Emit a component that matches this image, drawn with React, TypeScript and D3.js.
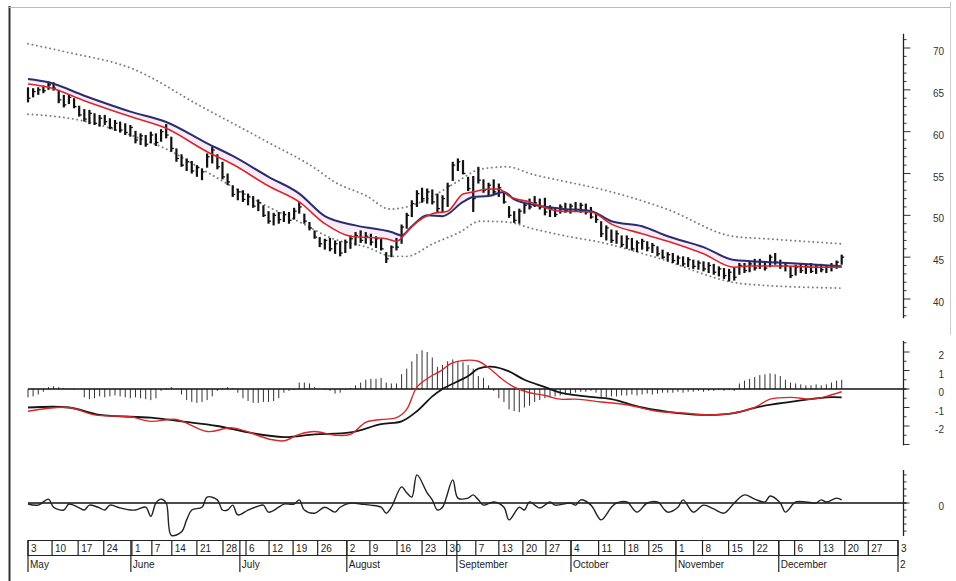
import React from "react";
import * as d3 from "d3";

// ---------- DATA ----------
const highs = [
  65.3, 65.2, 65.3, 65.5, 66.0, 65.9, 65.0, 64.4, 64.5, 64.0,
  63.1, 62.7, 62.6, 62.2, 62.0, 62.0, 61.6, 61.4, 61.2, 61.0,
  60.8, 60.1, 59.8, 59.6, 60.0, 59.8, 60.3, 60.9, 59.4, 58.0,
  57.3, 56.8, 56.5, 56.0, 55.6, 57.4, 58.2, 57.3, 56.4, 55.0,
  53.6, 53.2, 53.0, 52.6, 52.3, 51.9, 51.2, 50.5, 50.3, 50.4,
  50.5, 50.4, 50.9, 51.6, 50.2, 49.2, 48.2, 47.4, 47.2, 47.3,
  47.0, 46.9, 47.1, 47.6, 48.0, 48.2, 48.0, 47.8, 47.5, 47.2,
  45.6, 46.4, 47.3, 48.9, 50.3, 51.8, 53.0, 53.3, 53.2, 53.1,
  52.6, 52.4, 53.9, 56.4, 56.8, 56.6, 54.6, 54.7, 55.8, 54.3,
  53.9, 54.3, 53.8, 52.9, 51.1, 50.5, 50.8, 51.5, 52.0, 52.3,
  52.0, 52.1, 51.2, 51.0, 51.3, 51.5, 51.4, 51.6, 51.5, 51.4,
  51.0, 50.4, 49.3, 48.8, 48.3, 48.2, 47.6, 47.6, 47.3, 47.0,
  47.2, 46.9, 46.7, 46.3, 45.9, 45.6, 45.5, 45.2, 45.1, 45.0,
  44.7, 44.6, 44.5, 44.4, 44.2, 43.9, 43.7, 43.6, 43.8, 44.3,
  44.3, 44.5, 44.8, 44.8, 44.4, 45.3, 45.5, 44.7, 44.3, 43.9,
  44.1, 44.2, 44.1, 44.3, 44.1, 44.2, 44.0, 44.3, 44.6, 45.3,
];
const lows = [
  63.5, 64.1, 64.4, 64.6, 65.0, 64.9, 63.4, 62.9, 63.3, 62.8,
  61.8, 61.2, 60.9, 60.8, 60.6, 60.8, 60.3, 60.1, 59.9, 59.6,
  59.4, 58.6, 58.4, 58.2, 58.6, 58.3, 58.8, 59.2, 57.6, 56.4,
  55.8, 55.3, 55.0, 54.6, 54.2, 55.7, 56.2, 55.5, 54.3, 53.6,
  52.2, 51.8, 51.6, 51.2, 50.9, 50.5, 49.8, 49.0, 48.8, 49.0,
  49.2, 49.0, 49.5, 50.2, 49.0, 48.2, 47.2, 46.2, 45.9, 45.7,
  45.4, 45.1, 45.5, 46.0, 46.4, 46.7, 46.6, 46.4, 46.1, 45.8,
  44.3, 45.0, 45.8, 46.6, 48.4, 49.8, 51.0, 51.5, 51.4, 51.3,
  50.4, 50.4, 51.0, 54.1, 55.3, 54.9, 52.9, 50.4, 53.8, 52.7,
  52.3, 52.5, 52.2, 51.4, 49.7, 49.1, 49.0, 50.2, 50.7, 51.0,
  50.7, 50.0, 49.8, 49.8, 50.2, 50.3, 50.2, 50.4, 50.3, 50.1,
  49.6, 49.1, 47.4, 47.0, 46.7, 46.6, 46.2, 46.0, 45.8, 45.6,
  45.9, 45.7, 45.5, 45.1, 44.8, 44.5, 44.3, 44.1, 43.9, 43.8,
  43.6, 43.5, 43.3, 43.1, 42.9, 42.7, 42.4, 42.1, 42.2, 42.9,
  43.1, 43.2, 43.4, 43.6, 43.4, 43.8, 44.1, 43.6, 43.3, 42.5,
  42.8, 43.1, 43.0, 43.1, 43.0, 43.2, 43.1, 43.3, 43.6, 44.1,
];
const closes = [
  64.0, 64.8, 65.0, 64.9, 65.6, 65.2, 63.8, 63.2, 64.1, 63.0,
  62.0, 61.5, 62.2, 61.0, 61.6, 61.2, 60.5, 61.0, 60.2, 59.9,
  60.5, 59.0, 59.5, 58.5, 59.6, 58.7, 60.0, 59.6, 58.0, 56.8,
  56.0, 56.4, 55.3, 55.7, 55.2, 57.0, 57.8, 55.8, 54.6, 54.0,
  52.5, 52.8, 51.9, 52.2, 51.1, 51.5, 50.0, 49.3, 50.0, 49.5,
  50.1, 49.4, 50.5, 51.0, 49.3, 48.5, 47.4, 46.6, 47.0, 46.0,
  46.6, 45.5, 46.8, 47.2, 47.6, 47.0, 47.5, 46.8, 47.2, 46.0,
  44.8, 46.2, 46.2, 48.6, 50.0, 51.4, 52.6, 52.0, 52.8, 51.6,
  50.8, 52.0, 53.5, 56.0, 56.4, 55.0, 53.2, 52.0, 54.2, 53.0,
  53.6, 52.8, 53.3, 51.6, 50.0, 49.4, 50.5, 51.2, 51.0, 51.5,
  51.0, 50.4, 50.8, 50.1, 51.0, 50.6, 51.1, 50.7, 51.2, 50.4,
  49.8, 49.5, 47.8, 48.5, 47.0, 47.8, 46.5, 47.2, 46.0, 46.7,
  46.9, 46.1, 46.4, 45.4, 45.0, 45.3, 44.6, 44.9, 44.2, 44.7,
  43.9, 44.3, 43.6, 44.0, 43.2, 43.6, 42.8, 43.2, 42.6, 44.0,
  43.4, 44.2, 43.7, 44.5, 43.7, 45.0, 44.4, 43.9, 44.0, 42.8,
  43.8, 43.4, 43.9, 43.3, 43.8, 43.5, 43.8, 44.0, 44.4, 45.0,
];

// moving averages: [day index, value]
const blueMA: [number, number][] = [
  [0, 66.3], [4, 65.9], [11, 64.3], [20, 62.4], [27, 61.15], [35, 58.6], [40, 57.1],
  [47, 54.6], [53, 52.6], [58, 49.9], [64, 48.8], [71, 48.0], [73, 47.6], [75, 48.7],
  [78, 50.0], [81, 49.9], [85, 51.6], [87, 52.2], [90, 52.3], [93, 52.8], [95, 51.9],
  [98, 51.35], [104, 50.8], [110, 50.5], [114, 49.3], [120, 48.7], [125, 47.5],
  [132, 46.2], [138, 44.65], [145, 44.4], [151, 44.2], [159, 43.9],
];
const redMA: [number, number][] = [
  [0, 65.7], [4, 65.3], [11, 63.7], [20, 61.8], [27, 60.4], [35, 57.6], [40, 56.1],
  [47, 53.5], [53, 51.6], [58, 49.0], [63, 47.5], [70, 47.2], [72, 46.9], [74, 48.0],
  [76, 49.2], [79, 50.2], [82, 50.5], [85, 52.55], [87, 52.8], [90, 53.15], [92, 53.15],
  [94, 52.3], [98, 51.6], [104, 50.5], [110, 50.4], [114, 48.95], [120, 47.8],
  [125, 46.9], [132, 45.4], [138, 43.8], [141, 43.95], [148, 43.95], [154, 43.8], [159, 43.8],
];
const upperBand: [number, number][] = [
  [0, 70.5], [7.6, 69.5], [20.5, 67.5], [33.6, 63.1], [46.7, 58.8], [56.4, 55.5],
  [59.6, 54.1], [66.2, 52.3], [70.7, 50.75], [74.6, 51.1], [79.1, 52.3], [83.8, 54.0],
  [88.3, 55.5], [93.6, 55.8], [98.6, 54.9], [105.3, 54.0], [111.7, 53.15],
  [124.8, 50.75], [137.7, 47.5], [144.3, 47.2], [159, 46.6],
];
const lowerBand: [number, number][] = [
  [0, 62.1], [10.7, 61.3], [20.5, 59.5], [27.1, 57.9], [34.9, 55.2], [46.7, 51.1],
  [53.1, 49.2], [59.6, 47.2], [66.2, 46.2], [71.3, 45.1], [74, 45.1], [79.1, 46.6],
  [84.4, 48.0], [88.3, 49.3], [93.6, 49.2], [98.6, 48.4], [105.3, 47.5],
  [111.7, 46.8], [122.5, 45.0], [140, 41.8], [159, 41.3],
];

// MACD panel
const macdHist = [
  -0.45, -0.4, -0.3, -0.15, 0.1, 0.15, 0.1, 0.05, 0, -0.05,
  0, -0.45, -0.55, -0.5, -0.4, -0.45, -0.4, -0.35, -0.4, -0.45,
  -0.5, -0.45, -0.5, -0.55, -0.6, -0.5, -0.1, 0.05, 0.1, 0,
  -0.3, -0.6, -0.7, -0.75, -0.7, -0.6, -0.4, -0.1, 0.05, 0.1,
  0.05, -0.2, -0.5, -0.65, -0.75, -0.75, -0.7, -0.7, -0.65, -0.5,
  -0.2, -0.1, -0.05, 0.35, 0.35, 0.3, 0.1, 0, -0.05, -0.1,
  -0.25, -0.2, -0.05, 0.05, 0.2, 0.35, 0.5, 0.55, 0.55, 0.6,
  0.35, 0.3, 0.3, 0.8, 1.1, 1.5, 1.9, 2.1, 2.0, 1.7,
  1.2, 1.3, 1.5, 1.6, 1.5, 1.45, 1.3, 1.1, 0.7, 0.6,
  0.2, -0.1, -0.5, -0.7, -1.1, -1.2, -1.25, -1.0, -0.9, -0.7,
  -0.6, -0.5, -0.45, -0.4, -0.35, -0.3, -0.3, -0.2, -0.15, -0.15,
  -0.1, -0.2, -0.45, -0.45, -0.4, -0.4, -0.35, -0.35, -0.3, -0.35,
  -0.3, -0.25, -0.3, -0.25, -0.2, -0.2, -0.2, -0.15, -0.2, -0.15,
  -0.15, -0.1, -0.15, -0.1, -0.1, -0.05, -0.1, -0.05, -0.1, 0.3,
  0.45, 0.55, 0.65, 0.75, 0.8, 0.85, 0.8, 0.7, 0.5, 0.35,
  0.3, 0.25, 0.2, 0.2, 0.25, 0.2, 0.25, 0.35, 0.45, 0.5,
];
const macdRed: [number, number][] = [
  [0, -1.2], [8, -1.0], [13, -1.4], [20, -1.5], [24, -1.75], [29, -1.65], [35, -2.3],
  [40, -2.1], [47, -2.7], [50, -2.8], [53, -2.45], [56, -2.3], [60, -2.5], [63, -2.45],
  [66, -1.8], [69, -1.65], [72, -1.55], [74, -1.1], [76, 0.1], [78.5, 0.65], [80.5, 0.95],
  [82.8, 1.4], [85.3, 1.55], [88, 1.5], [90, 1.15], [92.8, 0.5], [95, 0.1], [98, -0.2],
  [101, -0.35], [104, -0.55], [107, -0.55], [112, -0.7], [117, -0.85], [123, -1.2],
  [128, -1.3], [133, -1.4], [138, -1.3], [142, -1.0], [145, -0.55], [149, -0.45],
  [153, -0.55], [156, -0.4], [159, -0.15],
];
const macdBlack: [number, number][] = [
  [0, -1.0], [8, -1.0], [14, -1.4], [24, -1.55], [30, -1.75], [37, -2.0], [43, -2.35],
  [50, -2.6], [56, -2.45], [63, -2.35], [69, -1.9], [73, -1.75], [76, -1.2], [79, -0.4],
  [81, 0], [86, 0.7], [88, 1.1], [91, 1.2], [94, 0.95], [97, 0.5], [101, 0.1],
  [104, -0.2], [109, -0.4], [114, -0.55], [120, -1.0], [127, -1.3], [133, -1.4],
  [138, -1.3], [143, -0.95], [149, -0.7], [156, -0.45], [159, -0.45],
];

// momentum panel
const momentum: [number, number][] = [
  [0, -0.15], [2, -0.3], [4, 0.55], [5, -0.6], [7, -1.0], [8, -0.15], [10, -0.7],
  [11, -1.0], [12, -0.3], [14, -0.7], [15, -1.0], [16, -0.3], [18, -0.7], [20, -1.0],
  [21, -1.0], [23, -0.6], [24, -1.9], [25, 0], [26, 0.55], [27, 0], [28, -4.6],
  [30, -4.1], [31, -2.4], [32, -1.0], [34, -0.6], [35, 0.85], [37, 0.45], [38, -1.0],
  [39, -1.0], [40, -0.3], [41, -1.7], [43, -1.0], [45, -0.45], [46, -0.3], [47, -1.3],
  [49, -0.6], [50, -0.15], [52, -0.15], [53, 0.45], [54, -1.0], [56, -1.45], [58, -0.6],
  [60, -1.3], [61, -0.6], [63, 0], [65, -0.15], [67, -0.3], [69, -0.6], [70, -1.45],
  [71, -0.6], [73, 2.3], [74, 1.45], [75, 0.85], [76, 4.0], [78, 1.45], [79, 0.45],
  [80, -1.0], [81, -0.6], [83, 3.3], [84, 0.7], [86, 0.7], [87, 1.15], [88, 0.45],
  [89, -0.3], [91, 0.15], [93, -0.6], [94, -2.4], [96, -0.6], [97, -1.0], [98, 0.15],
  [100, -0.7], [102, 0.15], [103, -0.3], [106, 0], [107, -0.3], [108, 0.45], [110, -0.3],
  [112, -2.4], [114, -0.6], [115, 0], [117, 0.15], [119, -1.3], [121, 0], [123, 0.15],
  [125, -1.3], [127, -0.6], [128, 0.45], [130, -1.3], [132, -0.3], [134, -0.85],
  [136, -1.45], [138, 0], [140, 1.15], [142, 0.55], [144, 0.15], [145, 1.0], [147, 0],
  [148, -1.3], [150, 0.15], [152, 0.15], [154, 0], [155, 0.45], [156, 0.15], [158, 0.7],
  [159, 0.45],
];

// date axis
const weekLabels = [
  "3", "10", "17", "24", "1", "7", "14", "21", "28", "6", "12", "19", "26", "2", "9",
  "16", "23", "30", "7", "13", "20", "27", "4", "11", "18", "25", "1", "8", "15", "22",
  "", "6", "13", "20", "27", "3",
];
const weekPos = [
  0, 4.7, 9.8, 14.8, 20.3, 24.2, 28.1, 33.0, 38.1, 42.6, 47.1, 51.8, 56.6, 62.3, 66.8,
  72.1, 77.0, 81.8, 87.5, 92.0, 96.7, 101.2, 106.1, 111.5, 116.6, 121.3, 126.6, 131.8,
  136.9, 141.8, 146.7, 149.8, 154.7, 159.6, 164.2, 170,
];
const monthLabels = ["May", "June", "July", "August", "September", "October", "November", "December", "2"];
const monthPos = [0, 20.1, 41.4, 62.3, 83.8, 106.1, 126.6, 146.7, 170];

const priceTicks = [40, 45, 50, 55, 60, 65, 70];
const macdTicks = [-2, -1, 0, 1, 2];

// ---------- CHART ----------
const W = 956;
const H = 581;

export default function App() {
  const x = d3.scaleLinear().domain([0, 170]).range([28, 898]);
  const yP = d3.scaleLinear().domain([40, 70]).range([299, 48]);
  const yM = d3.scaleLinear().domain([-3, 2.5]).range([444.5, 342.75]);
  const yMo = d3.scaleLinear().domain([-4.7, 4.7]).range([536, 470]);
  const axisX = 903.5;
  const font = "'Liberation Sans', Arial, sans-serif";

  const lineP = d3
    .line<[number, number]>()
    .x((d) => x(d[0]))
    .y((d) => yP(d[1]))
    .curve(d3.curveMonotoneX);
  const lineM = d3
    .line<[number, number]>()
    .x((d) => x(d[0]))
    .y((d) => yM(d[1]))
    .curve(d3.curveCatmullRom.alpha(0.5));
  const lineMo = d3
    .line<[number, number]>()
    .x((d) => x(d[0]))
    .y((d) => yMo(d[1]))
    .curve(d3.curveCatmullRom.alpha(0.5));
  const linLin = d3
    .line<[number, number]>()
    .x((d) => x(d[0]))
    .y((d) => yP(d[1]));

  const fillPath =
    linLin(blueMA)! + "L" + linLin([...redMA].reverse())!.slice(1) + "Z";

  const minorPrice = d3.range(38, 72, 1);
  const minorMacd = d3.range(-3, 2.51, 0.5);
  const minorMom = d3.range(-4, 4.1, 1);

  return (
    <svg
      width={W}
      height={H}
      viewBox={`0 0 ${W} ${H}`}
      style={{ position: "absolute", left: 0, top: 0, background: "#fff" }}
      fontFamily={font}
    >
      <rect x={0} y={0} width={W} height={H} fill="#fff" />
      {/* frame */}
      <line x1={9.5} x2={9.5} y1={6} y2={H} stroke="#333" strokeWidth={2} />
      <line x1={9} x2={950} y1={7.5} y2={7.5} stroke="#bbb" strokeWidth={1} />
      <line x1={950.5} x2={950.5} y1={2} y2={335} stroke="#ccc" strokeWidth={1} />

      {/* ---- price panel ---- */}
      <path d={fillPath} fill="#f1dff0" opacity={0.6} />
      <path
        d={lineP(upperBand)!}
        fill="none"
        stroke="#7d7d7d"
        strokeWidth={1.9}
        strokeDasharray="0.1 4.4"
        strokeLinecap="round"
      />
      <path
        d={lineP(lowerBand)!}
        fill="none"
        stroke="#7d7d7d"
        strokeWidth={1.9}
        strokeDasharray="0.1 4.4"
        strokeLinecap="round"
      />
      {highs.map((h, i) => (
        <g key={"b" + i}>
          <line x1={x(i)} x2={x(i)} y1={yP(h)} y2={yP(lows[i])} stroke="#111" strokeWidth={2.2} />
          <line x1={x(i)} x2={x(i) + 2.5} y1={yP(closes[i])} y2={yP(closes[i])} stroke="#111" strokeWidth={1.3} />
        </g>
      ))}
      <path d={lineP(blueMA)!} fill="none" stroke="#2b2c72" strokeWidth={2} />
      <path d={lineP(redMA)!} fill="none" stroke="#d8262a" strokeWidth={1.6} />

      {/* price axis */}
      <line x1={axisX} x2={axisX} y1={yP(71.7)} y2={yP(37.7)} stroke="#222" strokeWidth={1.3} />
      {minorPrice.map((v) => (
        <line key={"pm" + v} x1={axisX} x2={axisX + (v % 5 === 0 ? 7 : 3)} y1={yP(v)} y2={yP(v)} stroke="#333" strokeWidth={1} />
      ))}
      {priceTicks.map((v) => (
        <text key={"pt" + v} x={944} y={yP(v) + 7} textAnchor="end" fontSize={10} fill="#333">
          {v}
        </text>
      ))}

      {/* ---- MACD panel ---- */}
      {macdHist.map((v, i) => (
        <line key={"h" + i} x1={x(i)} x2={x(i)} y1={yM(0)} y2={yM(v)} stroke="#333" strokeWidth={1} />
      ))}
      <line x1={28} x2={axisX + 3} y1={yM(0)} y2={yM(0)} stroke="#111" strokeWidth={1.3} />
      <path d={lineM(macdBlack)!} fill="none" stroke="#151515" strokeWidth={1.8} />
      <path d={lineM(macdRed)!} fill="none" stroke="#d8262a" strokeWidth={1.4} />
      <line x1={axisX} x2={axisX} y1={yM(2.6)} y2={yM(-3.05)} stroke="#222" strokeWidth={1.3} />
      {minorMacd.map((v) => (
        <line key={"mm" + v} x1={axisX} x2={axisX + (Math.abs(v % 1) < 0.01 ? 6 : 3)} y1={yM(v)} y2={yM(v)} stroke="#333" strokeWidth={1} />
      ))}
      {macdTicks.map((v) => (
        <text key={"mt" + v} x={944} y={yM(v) + 7} textAnchor="end" fontSize={10} fill="#333">
          {v}
        </text>
      ))}

      {/* ---- momentum panel ---- */}
      <line x1={28} x2={axisX + 3} y1={yMo(0)} y2={yMo(0)} stroke="#111" strokeWidth={1.3} />
      <path d={lineMo(momentum)!} fill="none" stroke="#222" strokeWidth={1.4} strokeLinejoin="round" />
      <line x1={axisX} x2={axisX} y1={yMo(4.7)} y2={yMo(-4.7)} stroke="#222" strokeWidth={1.3} />
      {minorMom.map((v) => (
        <line key={"om" + v} x1={axisX} x2={axisX + (v === 0 ? 6 : 3)} y1={yMo(v)} y2={yMo(v)} stroke="#333" strokeWidth={1} />
      ))}
      <text x={944} y={yMo(0) + 7} textAnchor="end" fontSize={10} fill="#333">
        0
      </text>

      {/* ---- date axis ---- */}
      <line x1={x(0)} x2={x(170)} y1={540.5} y2={540.5} stroke="#222" strokeWidth={1} />
      <line x1={x(0)} x2={x(170)} y1={555.5} y2={555.5} stroke="#222" strokeWidth={1} />
      {weekPos.map((p, i) => (
        <g key={"w" + i}>
          <line x1={x(p)} x2={x(p)} y1={540} y2={556} stroke="#222" strokeWidth={1.2} />
          <text x={x(p) + 3} y={552} fontSize={10} fill="#222">
            {weekLabels[i]}
          </text>
        </g>
      ))}
      {monthPos.map((p, i) => (
        <g key={"m" + i}>
          <line x1={x(p)} x2={x(p)} y1={540} y2={572} stroke="#222" strokeWidth={1.2} />
          <text x={x(p) + 2} y={568} fontSize={10} fill="#222">
            {monthLabels[i]}
          </text>
        </g>
      ))}
    </svg>
  );
}
